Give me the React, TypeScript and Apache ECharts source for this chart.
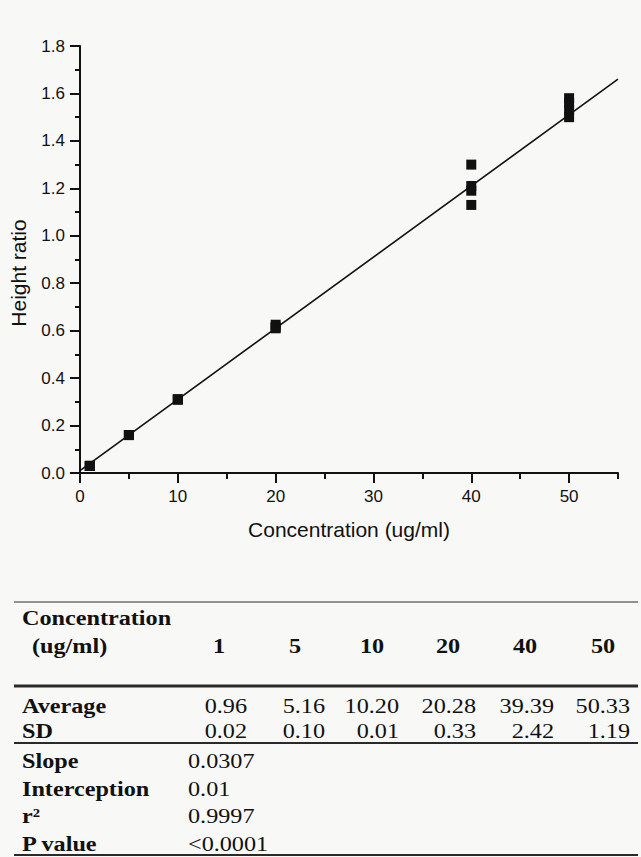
import React, { useEffect, useRef } from "react";
import * as echarts from "echarts";

// ---- chart data ----
const pointX = [1, 1, 1, 5, 5, 5, 10, 10, 10, 20, 20, 20, 40, 40, 40, 40, 50, 50, 50, 50];
const pointY = [0.03, 0.03, 0.03, 0.16, 0.16, 0.16, 0.31, 0.31, 0.31, 0.625, 0.61, 0.615, 1.3, 1.21, 1.19, 1.13, 1.58, 1.56, 1.53, 1.5];
const fitX = [0, 55];
const fitY = [0.01, 1.66];
const xMajorTicks = [0, 10, 20, 30, 40, 50];
const xMinorTicks = [5, 15, 25, 35, 45, 55];
const xTitle = "Concentration (ug/ml)";
const yTitle = "Height ratio";

// ---- table data ----
const tableConcs = ["1", "5", "10", "20", "40", "50"];
const averages = ["0.96", "5.16", "10.20", "20.28", "39.39", "50.33"];
const sds = ["0.02", "0.10", "0.01", "0.33", "2.42", "1.19"];
const statLabels = ["Slope", "Interception", "r²", "P value"];
const statValues = ["0.0307", "0.01", "0.9997", "<0.0001"];

const INK = "#111111";

export default function App() {
  const ref = useRef<HTMLDivElement>(null);
  useEffect(() => {
    if (!ref.current) return;
    const chart = echarts.init(ref.current, undefined, { renderer: "svg" });

    const serif = "'Liberation Serif', 'Times New Roman', serif";
    const sans = "'Liberation Sans', Arial, sans-serif";
    const graphics: any[] = [];
    const txt = (text: string, x: number, y: number, opts: any = {}) =>
      graphics.push({
        type: "text",
        x,
        y,
        scaleX: 1.1,
        silent: true,
        style: {
          text,
          fill: INK,
          font: `${opts.bold ? "bold " : ""}22px ${serif}`,
          align: opts.align || "left",
          verticalAlign: "middle",
        },
      });
    const rule = (y: number, w: number) =>
      graphics.push({
        type: "line",
        silent: true,
        shape: { x1: 14, y1: y, x2: 638, y2: y },
        style: { stroke: "#2a2a2a", lineWidth: w },
      });

    // y axis title
    graphics.push({
      type: "text",
      x: 18.5,
      y: 273,
      rotation: Math.PI / 2,
      silent: true,
      style: { text: yTitle, fill: INK, font: `21px ${sans}`, align: "center", verticalAlign: "middle" },
    });

    // table
    rule(602, 1.2);
    rule(686, 3);
    rule(743, 1.8);
    rule(855, 1.8);
    txt("Concentration", 22, 617, { bold: true });
    txt("(ug/ml)", 32, 645, { bold: true });
    const headX = [219, 295, 372, 448, 525, 603];
    const valRight = [247, 325, 399, 476, 554, 630];
    tableConcs.forEach((c, i) => txt(c, headX[i], 645, { bold: true, align: "center" }));
    txt("Average", 22, 705, { bold: true });
    txt("SD", 22, 730, { bold: true });
    averages.forEach((v, i) => txt(v, valRight[i], 705, { align: "right" }));
    sds.forEach((v, i) => txt(v, valRight[i], 730, { align: "right" }));
    const statY = [760, 788, 815, 843];
    statLabels.forEach((l, i) => txt(l, 22, statY[i], { bold: true }));
    statValues.forEach((v, i) => txt(v, 188, statY[i]));

    chart.setOption({
      animation: false,
      backgroundColor: "#f8f8f6",
      grid: { left: 80, top: 46, width: 538, height: 427, containLabel: false },
      xAxis: [
        {
          type: "value",
          min: 0,
          max: 55,
          position: "bottom",
          name: xTitle,
          nameLocation: "middle",
          nameGap: 46,
          nameTextStyle: { color: INK, fontSize: 21, fontFamily: sans },
          axisLine: { lineStyle: { color: INK, width: 2 } },
          axisTick: { show: true, customValues: xMajorTicks, length: 10, lineStyle: { color: INK, width: 2 } },
          axisLabel: { customValues: xMajorTicks, color: INK, fontSize: 17, fontFamily: sans, margin: 15 },
          splitLine: { show: false },
        },
        {
          type: "value",
          min: 0,
          max: 55,
          position: "bottom",
          axisLine: { show: false },
          axisTick: { show: true, customValues: xMinorTicks, length: 6, lineStyle: { color: INK, width: 2 } },
          axisLabel: { show: false },
          splitLine: { show: false },
        },
      ],
      yAxis: {
        type: "value",
        min: 0,
        max: 1.8,
        interval: 0.2,
        axisLine: { show: true, lineStyle: { color: INK, width: 2 } },
        axisTick: { show: true, length: 10, lineStyle: { color: INK, width: 2 } },
        minorTick: { show: true, splitNumber: 2, length: 5, lineStyle: { color: INK, width: 2 } },
        axisLabel: {
          color: INK,
          fontSize: 17,
          fontFamily: sans,
          margin: 15,
          formatter: (v: number) => v.toFixed(1),
        },
        splitLine: { show: false },
        minorSplitLine: { show: false },
      },
      series: [
        {
          type: "line",
          xAxisIndex: 0,
          data: fitX.map((x, i) => [x, fitY[i]]),
          showSymbol: false,
          symbol: "none",
          lineStyle: { color: INK, width: 1.6 },
          silent: true,
        },
        {
          type: "scatter",
          xAxisIndex: 0,
          data: pointX.map((x, i) => [x, pointY[i]]),
          symbol: "rect",
          symbolSize: 10,
          itemStyle: { color: INK, opacity: 1 },
          silent: true,
        },
      ],
      graphic: graphics,
    });
    return () => chart.dispose();
  }, []);
  return (
    <div
      ref={ref}
      style={{ position: "fixed", left: 0, top: 0, width: 641, height: 857 }}
    />
  );
}
